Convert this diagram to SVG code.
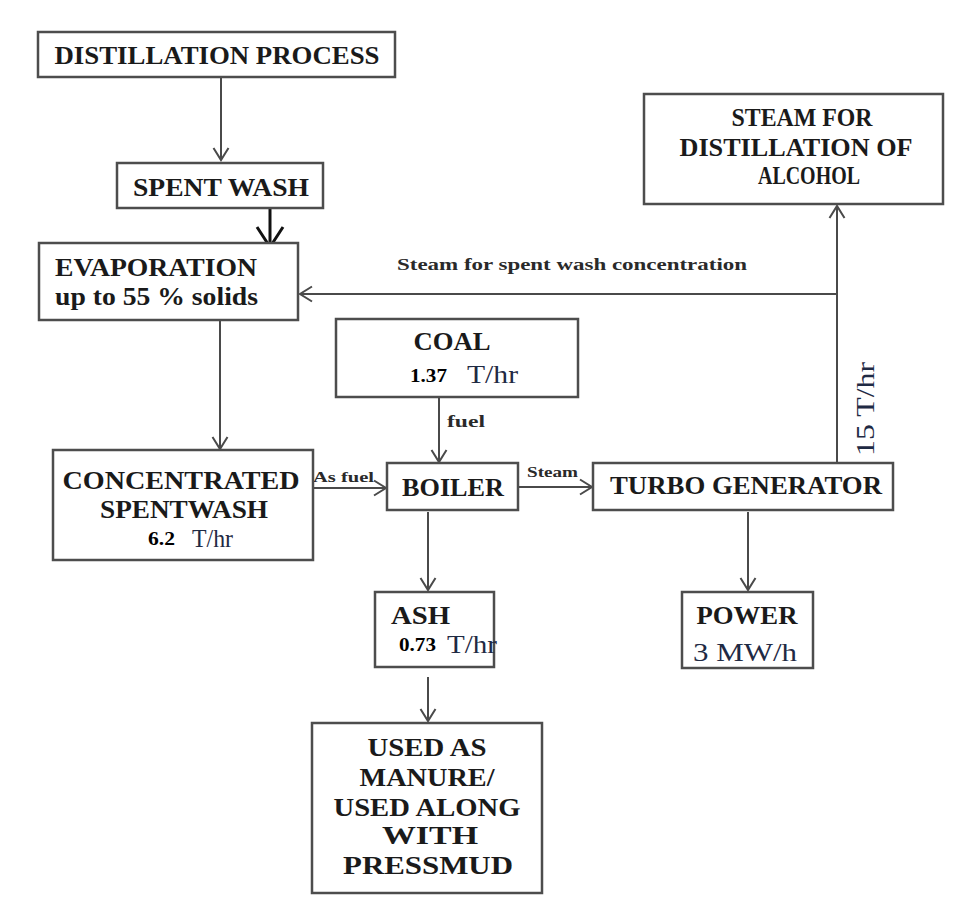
<svg xmlns="http://www.w3.org/2000/svg" width="976" height="919" viewBox="0 0 976 919">
<defs>
<marker id="arr" markerUnits="userSpaceOnUse" markerWidth="20" markerHeight="20" viewBox="0 0 20 20" refX="15" refY="10" orient="auto">
<path d="M3,2.5 L15,10 L3,17.5" fill="none" stroke="#4a4a4a" stroke-width="2"/>
</marker>
<marker id="arrB" markerUnits="userSpaceOnUse" markerWidth="32" markerHeight="32" viewBox="0 0 32 32" refX="24" refY="16" orient="auto">
<path d="M4,3 L24,16 L4,29" fill="none" stroke="#111" stroke-width="3"/>
</marker>
</defs>
<style>
.box{fill:#fff;stroke:#4d4d4d;stroke-width:2.5}
.t{font-family:"Liberation Serif","Times New Roman",serif;font-weight:bold;fill:#1a1a1a;font-size:26px}
.c{text-anchor:middle}
.n{font-family:"Liberation Serif","Times New Roman",serif;font-weight:bold;fill:#000;font-size:19px}
.u{font-family:"Liberation Serif","Times New Roman",serif;fill:#1f2a44;font-size:25px}
.s{font-family:"Liberation Serif","Times New Roman",serif;font-weight:bold;fill:#2a2a2a}
.ln{stroke:#4a4a4a;stroke-width:2;fill:none}
</style>
<rect width="976" height="919" fill="#fff"/>
<g id="connectors">
<line class="ln" x1="221" y1="78" x2="221" y2="160" marker-end="url(#arr)"/>
<line x1="270" y1="209" x2="270" y2="247" stroke="#111" stroke-width="3" marker-end="url(#arrB)"/>
<line class="ln" x1="837" y1="463" x2="837" y2="206" marker-end="url(#arr)"/>
<line class="ln" x1="837" y1="294" x2="300" y2="294" marker-end="url(#arr)"/>
<line class="ln" x1="220" y1="320" x2="220" y2="449" marker-end="url(#arr)"/>
<line class="ln" x1="313" y1="488" x2="386" y2="488" marker-end="url(#arr)"/>
<line class="ln" x1="439" y1="397" x2="439" y2="462" marker-end="url(#arr)"/>
<line class="ln" x1="518" y1="487" x2="592" y2="487" marker-end="url(#arr)"/>
<line class="ln" x1="428" y1="512" x2="428" y2="590" marker-end="url(#arr)"/>
<line class="ln" x1="428" y1="677" x2="428" y2="721" marker-end="url(#arr)"/>
<line class="ln" x1="748" y1="512" x2="748" y2="590" marker-end="url(#arr)"/>
<text class="s" x="397" y="270" font-size="17" textLength="350" lengthAdjust="spacingAndGlyphs">Steam for spent wash concentration</text>
<text class="s" x="447" y="427" font-size="16" textLength="38" lengthAdjust="spacingAndGlyphs">fuel</text>
<text class="s" x="313" y="482" font-size="15" textLength="61" lengthAdjust="spacingAndGlyphs">As fuel</text>
<text class="s" x="527" y="477" font-size="14" textLength="51" lengthAdjust="spacingAndGlyphs">Steam</text>
<text class="u" transform="translate(874,456) rotate(-90)" textLength="94" lengthAdjust="spacingAndGlyphs">15 T/hr</text>
</g>
<g id="distillation">
<rect class="box" x="38" y="32" width="357" height="45"/>
<text class="t c" x="217" y="64" textLength="325" lengthAdjust="spacingAndGlyphs">DISTILLATION PROCESS</text>
</g>
<g id="spentwash">
<rect class="box" x="117" y="163" width="206" height="45"/>
<text class="t c" x="221" y="196" textLength="176" lengthAdjust="spacingAndGlyphs">SPENT WASH</text>
</g>
<g id="evaporation">
<rect class="box" x="39" y="243" width="259" height="77"/>
<text class="t" x="55" y="276" textLength="202" lengthAdjust="spacingAndGlyphs">EVAPORATION</text>
<text class="t" x="55" y="305" textLength="203" lengthAdjust="spacingAndGlyphs">up to 55 % solids</text>
</g>
<g id="steamfor">
<rect class="box" x="644" y="94" width="299" height="110"/>
<text class="t c" x="802" y="126" textLength="141" lengthAdjust="spacingAndGlyphs">STEAM FOR</text>
<text class="t c" x="796" y="156" textLength="233" lengthAdjust="spacingAndGlyphs">DISTILLATION OF</text>
<text class="t c" x="809" y="184" textLength="102" lengthAdjust="spacingAndGlyphs">ALCOHOL</text>
</g>
<g id="coal">
<rect class="box" x="336" y="319" width="242" height="78"/>
<text class="t c" x="452" y="350" textLength="77" lengthAdjust="spacingAndGlyphs">COAL</text>
<text class="n" x="410" y="382" textLength="37" lengthAdjust="spacingAndGlyphs">1.37</text>
<text class="u" x="467" y="383" textLength="51" lengthAdjust="spacingAndGlyphs">T/hr</text>
</g>
<g id="concentrated">
<rect class="box" x="53" y="450" width="260" height="110"/>
<text class="t c" x="181" y="489" textLength="237" lengthAdjust="spacingAndGlyphs">CONCENTRATED</text>
<text class="t c" x="184" y="518" textLength="168" lengthAdjust="spacingAndGlyphs">SPENTWASH</text>
<text class="n" x="148" y="545" textLength="27" lengthAdjust="spacingAndGlyphs">6.2</text>
<text class="u" x="192" y="547" textLength="41" lengthAdjust="spacingAndGlyphs">T/hr</text>
</g>
<g id="boiler">
<rect class="box" x="387" y="463" width="131" height="47"/>
<text class="t c" x="453" y="496" textLength="102" lengthAdjust="spacingAndGlyphs">BOILER</text>
</g>
<g id="turbo">
<rect class="box" x="593" y="463" width="300" height="47"/>
<text class="t c" x="746" y="494" textLength="272" lengthAdjust="spacingAndGlyphs">TURBO GENERATOR</text>
</g>
<g id="ash">
<rect class="box" x="375" y="592" width="119" height="75"/>
<text class="t" x="391" y="624" textLength="59" lengthAdjust="spacingAndGlyphs">ASH</text>
<text class="n" x="399" y="651" textLength="37" lengthAdjust="spacingAndGlyphs">0.73</text>
<text class="u" x="447" y="653" textLength="50" lengthAdjust="spacingAndGlyphs">T/hr</text>
</g>
<g id="power">
<rect class="box" x="682" y="592" width="131" height="76"/>
<text class="t c" x="747" y="624" textLength="101" lengthAdjust="spacingAndGlyphs">POWER</text>
<text class="u c" x="745" y="661" textLength="104" lengthAdjust="spacingAndGlyphs">3 MW/h</text>
</g>
<g id="used">
<rect class="box" x="312" y="723" width="230" height="170"/>
<text class="t c" x="427" y="756" textLength="119" lengthAdjust="spacingAndGlyphs">USED AS</text>
<text class="t c" x="427" y="786" textLength="135" lengthAdjust="spacingAndGlyphs">MANURE/</text>
<text class="t c" x="427" y="816" textLength="187" lengthAdjust="spacingAndGlyphs">USED ALONG</text>
<text class="t c" x="430" y="844" textLength="96" lengthAdjust="spacingAndGlyphs">WITH</text>
<text class="t c" x="428" y="874" textLength="170" lengthAdjust="spacingAndGlyphs">PRESSMUD</text>
</g>
</svg>
